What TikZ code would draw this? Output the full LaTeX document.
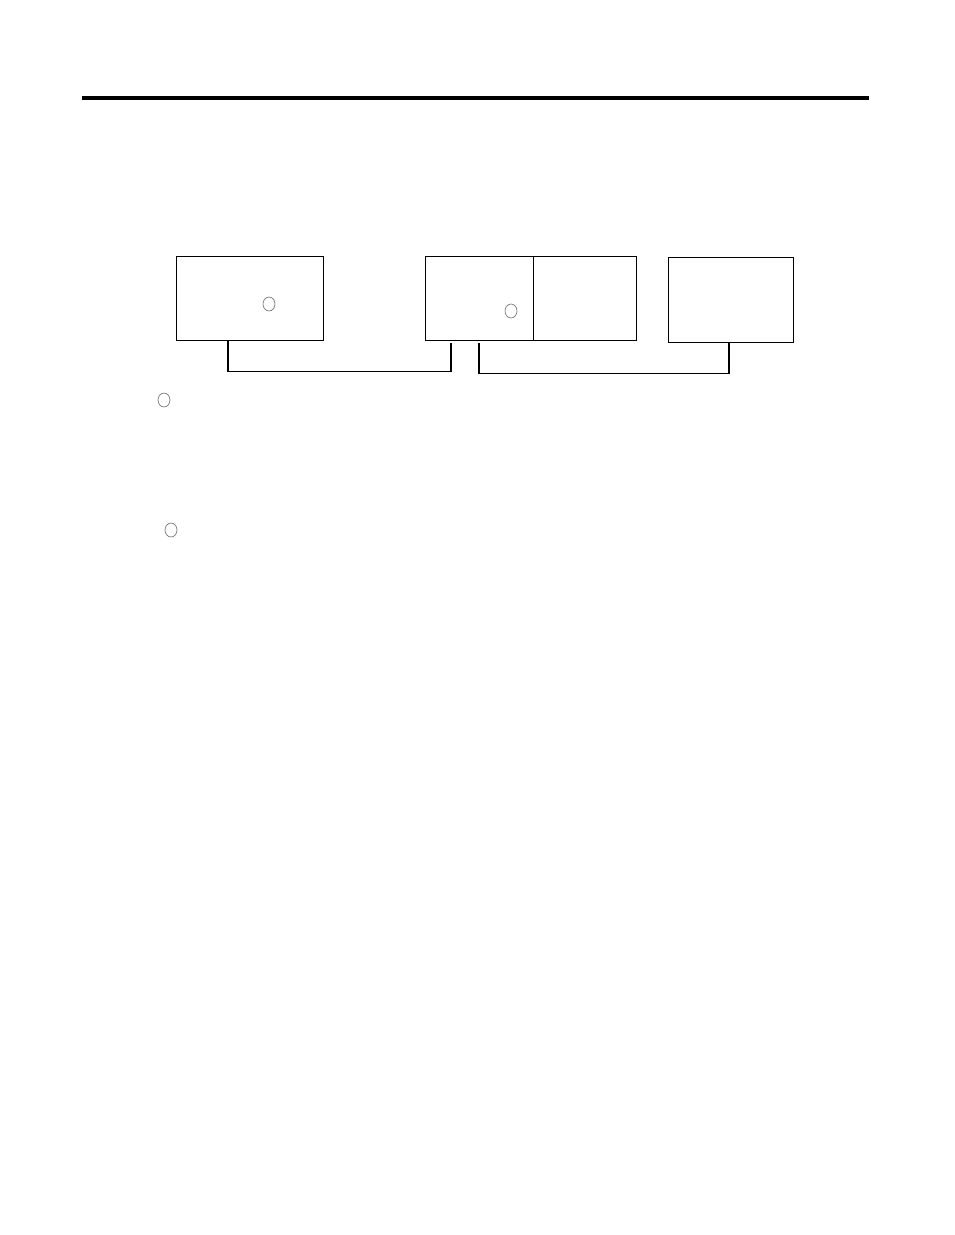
\documentclass[tikz,border=0pt]{standalone}
\usetikzlibrary{shapes.geometric,calc}
\begin{document}
\begin{tikzpicture}[x=0.75pt,y=-0.75pt,
  box/.style={draw=black,line width=0.8pt,inner sep=0pt,anchor=north west},
  mark0/.style={draw=black!55,ellipse,line width=0.5pt,inner sep=0pt,minimum width=12*0.75pt,minimum height=14*0.75pt},
  link/.style={draw=black,line width=0.8pt}]
\useasboundingbox (0,0) rectangle (954,1235);
% top rule
\coordinate (r1) at (82,98);
\coordinate (r2) at (869,98);
\draw[line width=3pt] (r1) -- (r2);
% boxes
\node[box,minimum width=147*0.75pt,minimum height=84*0.75pt] (A) at (176,256) {};
\node[box,minimum width=108*0.75pt,minimum height=84*0.75pt] (B1) at (425,256) {};
\node[box,minimum width=103*0.75pt,minimum height=84*0.75pt] (B2) at (533,256) {};
\node[box,minimum width=125*0.75pt,minimum height=85*0.75pt] (C) at (668,257) {};
% circles
\node[mark0] (m1) at (269,304) {};
\node[mark0] (m2) at (511,311) {};
\node[mark0] (m3) at (164,400) {};
\node[mark0] (m4) at (171,530) {};
% connectors
\draw[link] ($(A.south west)+(52,0)$) -- ++(0,30) -| ($(B1.south west)+(26,2)$);
\draw[link] ($(B1.south west)+(54,2)$) -- ++(0,30) -| ($(C.south west)+(61,0)$);
\end{tikzpicture}
\end{document}
